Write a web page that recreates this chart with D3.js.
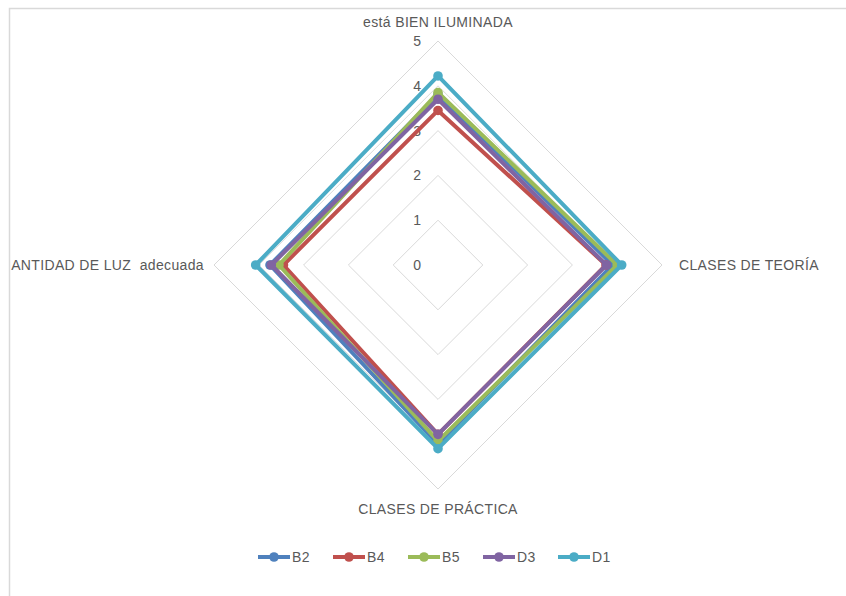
<!DOCTYPE html>
<html>
<head>
<meta charset="utf-8">
<script src="https://cdn.jsdelivr.net/npm/d3@7"></script>
<style>
  html, body { margin: 0; padding: 0; background: #fff; }
  svg { display: block; font-family: "Liberation Sans", Arial, sans-serif; }
  text { white-space: pre; }
</style>
</head>
<body>
<svg id="chart" width="846" height="596"></svg>
<script>
// Axis categories, clockwise from the top
const axes = ["está BIEN ILUMINADA", "CLASES DE TEORÍA", "CLASES DE PRÁCTICA", "CANTIDAD DE LUZ  adecuada"];
const ticks = [0, 1, 2, 3, 4, 5];

// One value per axis for each series
const seriesNames = ["B2", "B4", "B5", "D3", "D1"];
const B2 = [3.80, 3.90, 4.00, 3.75];
const B4 = [3.45, 3.75, 3.78, 3.45];
const B5 = [3.85, 4.00, 3.93, 3.55];
const D3 = [3.70, 3.76, 3.78, 3.72];
const D1 = [4.22, 4.10, 4.10, 4.07];
const colors = ["#4F81BD", "#C0504D", "#9BBB59", "#8064A2", "#4BACC6"];

const series = [B2, B4, B5, D3, D1].map((values, i) => ({ name: seriesNames[i], values, color: colors[i] }));

const svg = d3.select("#chart");
const cx = 438, cy = 265, R = 224;
const labelFont = 14, labelSpacing = 0.35;

// Chart-area frame
svg.append("rect")
  .attr("x", 9.5).attr("y", 8.5).attr("width", 900).attr("height", 700)
  .attr("fill", "#fff").attr("stroke", "#d9d9d9").attr("stroke-width", 1.5);

svg.append("clipPath").attr("id", "area")
  .append("rect").attr("x", 11).attr("y", 9).attr("width", 900).attr("height", 700);

const r = d3.scaleLinear().domain([0, 5]).range([0, R]);
const angle = d3.scalePoint().domain(d3.range(axes.length)).range([0, 2 * Math.PI * (axes.length - 1) / axes.length]);

const g = svg.append("g").attr("transform", `translate(${cx},${cy})`);

// Grid rings
const ring = d3.lineRadial().angle((d, i) => angle(i)).radius(d => r(d)).curve(d3.curveLinearClosed);
g.append("g").selectAll("path")
  .data(ticks.filter(t => t > 0))
  .join("path")
  .attr("d", t => ring(axes.map(() => t)))
  .attr("fill", "none")
  .attr("stroke", "#d9d9d9")
  .attr("stroke-width", 1);

// Tick labels along the upward axis
g.append("g").selectAll("text")
  .data(ticks)
  .join("text")
  .attr("x", -17)
  .attr("y", t => -r(t))
  .attr("dy", "0.35em")
  .attr("text-anchor", "end")
  .attr("font-size", 14)
  .attr("fill", "#595959")
  .text(t => t);

// Series polygons and markers
const line = d3.lineRadial().angle((d, i) => angle(i)).radius(d => r(d)).curve(d3.curveLinearClosed);
const sg = g.append("g").selectAll("g").data(series).join("g");
sg.append("path")
  .attr("d", d => line(d.values))
  .attr("fill", "none")
  .attr("stroke", d => d.color)
  .attr("stroke-width", 4)
  .attr("stroke-linejoin", "round");
sg.selectAll("circle")
  .data(d => d.values.map((v, i) => ({ v, i, color: d.color })))
  .join("circle")
  .attr("cx", d => r(d.v) * Math.sin(angle(d.i)))
  .attr("cy", d => -r(d.v) * Math.cos(angle(d.i)))
  .attr("r", 4.8)
  .attr("fill", d => d.color);

// Category labels
const lab = svg.append("g")
  .attr("font-size", labelFont).attr("letter-spacing", labelSpacing)
  .attr("fill", "#595959").attr("clip-path", "url(#area)");
lab.append("text").attr("x", cx).attr("y", cy - R - 19).attr("dy", "0.35em").attr("text-anchor", "middle").text(axes[0]);
lab.append("text").attr("x", cx + R + 17).attr("y", cy).attr("dy", "0.35em").attr("text-anchor", "start").text(axes[1]);
lab.append("text").attr("x", cx).attr("y", cy + R + 20).attr("dy", "0.35em").attr("text-anchor", "middle").text(axes[2]);
lab.append("text").attr("x", cx - R - 10).attr("y", cy).attr("dy", "0.35em").attr("text-anchor", "end").text(axes[3]);

// Legend
const legX = d3.scalePoint().domain(seriesNames).range([258, 558]);
const legY = 557;
const lg = svg.append("g").selectAll("g").data(series).join("g")
  .attr("transform", d => `translate(${legX(d.name)},${legY})`);
lg.append("line").attr("x1", 0).attr("x2", 32).attr("stroke", d => d.color).attr("stroke-width", 4);
lg.append("circle").attr("cx", 16).attr("r", 4.8).attr("fill", d => d.color);
lg.append("text").attr("x", 34).attr("dy", "0.35em").attr("font-size", labelFont).attr("letter-spacing", labelSpacing)
  .attr("fill", "#595959").text(d => d.name);
</script>
</body>
</html>
